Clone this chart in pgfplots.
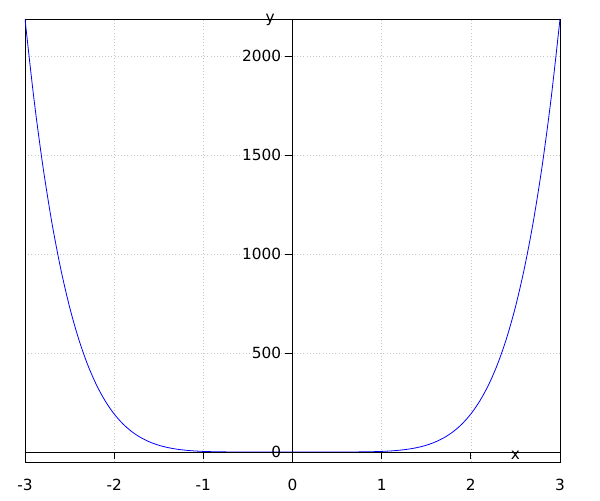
\documentclass[border=0pt]{standalone}
\usepackage{fontspec}
\setmainfont{DejaVu Sans}
\usepackage{pgfplots}
\pgfplotsset{compat=1.18}
\usepackage{pgfplotstable}

\pgfplotstableread{
x y
-3.0 2187
-2.9 1784.47
-2.8 1445.67
-2.7 1162.26
-2.6 926.75
-2.5 732.42
-2.4 573.31
-2.3 444.11
-2.2 340.14
-2.1 257.30
-2.0 192
-1.9 141.14
-1.8 102.04
-1.7 72.41
-1.6 50.33
-1.5 34.17
-1.4 22.59
-1.3 14.48
-1.2 8.96
-1.1 5.31
-1.0 3
-0.9 1.59
-0.8 0.79
-0.7 0.35
-0.6 0.14
-0.5 0.05
-0.4 0.01
-0.3 0
-0.2 0
-0.1 0
0.0 0
0.1 0
0.2 0
0.3 0
0.4 0.01
0.5 0.05
0.6 0.14
0.7 0.35
0.8 0.79
0.9 1.59
1.0 3
1.1 5.31
1.2 8.96
1.3 14.48
1.4 22.59
1.5 34.17
1.6 50.33
1.7 72.41
1.8 102.04
1.9 141.14
2.0 192
2.1 257.30
2.2 340.14
2.3 444.11
2.4 573.31
2.5 732.42
2.6 926.75
2.7 1162.26
2.8 1445.67
2.9 1784.47
3.0 2187
}\curve

\begin{document}
\fontsize{11.5}{14}\selectfont
\begin{tikzpicture}
\pgfplotsset{
  common/.style={
    width=401.25pt, height=332.25pt, scale only axis,
    xmin=-3, xmax=3, ymin=-50.5, ymax=2187,
    xtick={-3,-2,-1,0,1,2,3},
    ytick={0,500,1000,1500,2000},
    /pgf/number format/assume math mode=true,
    /pgf/number format/1000 sep={},
    tick label style={font=\fontsize{11.5}{14}\selectfont},
  }
}
\begin{axis}[common, name=ax,
    grid=major, grid style={dotted, gray!45, line width=0.5pt},
    yticklabels={}, major tick length=0pt,
    axis line style={line width=0.6pt},
    xticklabel style={yshift=-9pt},
  ]
  \addplot[blue, line width=0.6pt, smooth, no marks] table[x=x, y=y] {\curve};
\end{axis}
\begin{axis}[common,
    axis lines=middle, axis line style={-, line width=0.6pt},
    xticklabels={}, tick align=outside, major tick length=5.5pt,
    tick style={line width=0.6pt, black},
    hide obscured x ticks=false, hide obscured y ticks=false,
    yticklabel style={xshift=1pt},
    clip=false,
  ]
  \node[anchor=base] at (axis cs:2.5,0) [yshift=-5.5pt] {x};
  \node[anchor=base] at (axis cs:-0.25,2187) [yshift=-3pt] {y};
\end{axis}
\path (ax.south west) ++(-18.75pt,-28.5pt) rectangle ++(450pt,375pt);
\end{tikzpicture}
\end{document}
